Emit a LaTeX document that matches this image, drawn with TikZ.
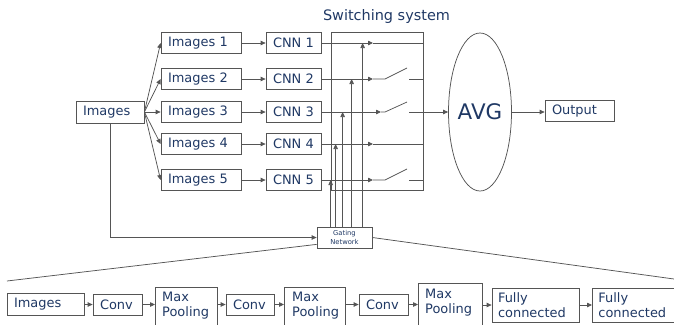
\documentclass[tikz,border=0pt]{standalone}
\usepackage{fontspec}
\setmainfont{DejaVu Sans}
\usetikzlibrary{arrows.meta,shapes.geometric}
\definecolor{txt}{RGB}{31,56,100}
\definecolor{ln}{RGB}{85,85,85}
\begin{document}
\begin{tikzpicture}[x=1bp,y=-1bp,
  box/.style={draw=ln, line width=0.75bp, text=txt, font=\fontsize{13}{15}\selectfont,
    inner xsep=7bp, inner ysep=0pt, align=left, minimum height=21bp},
  frame/.style={draw=ln, line width=0.75bp, inner sep=0pt},
  lbl/.style={text=txt, font=\fontsize{13}{15}\selectfont, inner sep=0pt, align=left},
  conn/.style={draw=ln, line width=0.75bp},
  arr/.style={conn, -{Triangle[length=5bp,width=4.5bp]}}]
\useasboundingbox (0,0) rectangle (674,324);
\clip (0,0) rectangle (674,324);

% top part
\node[box, text width=54bp, minimum height=22bp] (img) at (110,112) {Images};
\node[box, text width=66bp] (i1) at (201,43) {Images 1};
\node[box, text width=66bp] (i2) at (201,79) {Images 2};
\node[box, text width=66bp] (i3) at (201,112) {Images 3};
\node[box, text width=66bp] (i4) at (201,144) {Images 4};
\node[box, text width=66bp] (i5) at (201,180) {Images 5};
\node[box, text width=41bp] (c1) at (293.5,43) {CNN 1};
\node[box, text width=41bp] (c2) at (293.5,79) {CNN 2};
\node[box, text width=41bp] (c3) at (293.5,112) {CNN 3};
\node[box, text width=41bp] (c4) at (293.5,144) {CNN 4};
\node[box, text width=41bp] (c5) at (293.5,180) {CNN 5};

\node[frame, minimum width=92bp, minimum height=158bp] (sw) at (377,111) {};
\node[text=txt, font=\fontsize{14.5}{17}\selectfont, inner sep=0pt] (swt) at (386.5,17) {Switching system};
\node[draw=ln, line width=0.75bp, ellipse, minimum width=56bp, minimum height=158bp, inner sep=0pt,
  text=txt, font=\fontsize{21.5}{24}\selectfont] (avg) at (480,112) {AVG};
\node[box, text width=55bp] (out) at (579.5,111) {Output};
\node[frame, minimum width=55bp, minimum height=21bp, text=txt,
  font=\fontsize{6.8}{9.5}\selectfont, align=center] (gate) at (344.5,237.5) {Gating\\Network};

\foreach \k in {1,...,5}{
  \draw[arr] (img.east) -- (i\k.west);
  \draw[arr] (i\k.east) -- (c\k.west);
}
\draw[arr] (img.south) |- (gate.west);

% switches
\coordinate (s1) at (373,43);
\coordinate (s2) at (373,79);
\coordinate (s3) at (381,112);
\coordinate (s4) at (373,144);
\coordinate (s5) at (373,180);
\coordinate (s3o) at (409,112);
\draw[arr] (c1.east) -- (s1);
\draw[conn] (s1) -- (c1.east -| sw.east);
\draw[arr] (c2.east) -- (s2);
\draw[conn] (s2) -- ++(12,0) -- ++(22,-11);
\draw[conn] (c2.east -| sw.east) -- ++(-14,0);
\draw[arr] (c3.east) -- (s3);
\draw[conn] (s3) -- ++(4,0) -- ++(22,-10);
\draw[arr] (s3o) -- (avg.west);
\draw[arr] (c4.east) -- (s4);
\draw[conn] (s4) -- (c4.east -| sw.east);
\draw[arr] (c5.east) -- (s5);
\draw[conn] (s5) -- ++(12,0) -- ++(22,-11);
\draw[conn] (c5.east -| sw.east) -- ++(-14,0);

% gating arrows
\coordinate (g1) at ([xshift=46bp]gate.north west);
\coordinate (g2) at ([xshift=35bp]gate.north west);
\coordinate (g3) at ([xshift=26bp]gate.north west);
\coordinate (g4) at ([xshift=19bp]gate.north west);
\coordinate (g5) at ([xshift=14bp]gate.north west);
\draw[arr] (g1) -- (g1 |- c1.east);
\draw[arr] (g2) -- (g2 |- c2.east);
\draw[arr] (g3) -- (g3 |- c3.east);
\draw[arr] (g4) -- (g4 |- c4.east);
\draw[arr] (g5) -- (g5 |- c5.east);

\draw[arr] (avg.east) -- (avg.east -| out.west);

% zoom lines
\coordinate (zl) at (7,281);
\coordinate (zr) at (674,279);
\draw[conn] ([yshift=4bp]gate.south west) -- (zl);
\draw[conn] (gate.east) -- (zr);

% bottom row
\node[box, text width=63bp, minimum height=22bp] (b1) at (45.5,304.5) {Images};
\node[box, text width=35bp] (b2) at (117.5,304.5) {Conv};
\node[frame, minimum width=62bp, minimum height=45bp, anchor=north west] (b3) at (155,287) {};
\node[lbl, anchor=west] (b3t) at (162,306) {Max\\Pooling};
\node[box, text width=34bp] (b4) at (250,304.5) {Conv};
\node[frame, minimum width=61bp, minimum height=45bp, anchor=north west] (b5) at (284,287) {};
\node[lbl, anchor=west] (b5t) at (292,306) {Max\\Pooling};
\node[box, text width=35bp] (b6) at (383.5,304.5) {Conv};
\node[frame, minimum width=64bp, minimum height=50bp, anchor=north west] (b7) at (418,283) {};
\node[lbl, anchor=west] (b7t) at (425,302.5) {Max\\Pooling};
\node[box, text width=75bp, inner xsep=6bp, minimum height=34bp] (b8) at (535.5,305) {Fully\\connected};
\node[box, text width=78bp, inner xsep=6bp, minimum height=34bp, anchor=west] (b9) at (592,305) {Fully\\connected};

\draw[arr] (b1.east) -- (b2.west);
\draw[arr] (b2.east) -- (b2.east -| b3.west);
\draw[arr] (b3.east |- b4.west) -- (b4.west);
\draw[arr] (b4.east) -- (b4.east -| b5.west);
\draw[arr] (b5.east |- b6.west) -- (b6.west);
\draw[arr] (b6.east) -- (b6.east -| b7.west);
\draw[arr] (b7.east |- b8.west) -- (b8.west);
\draw[arr] (b8.east) -- (b9.west);
\end{tikzpicture}
\end{document}
